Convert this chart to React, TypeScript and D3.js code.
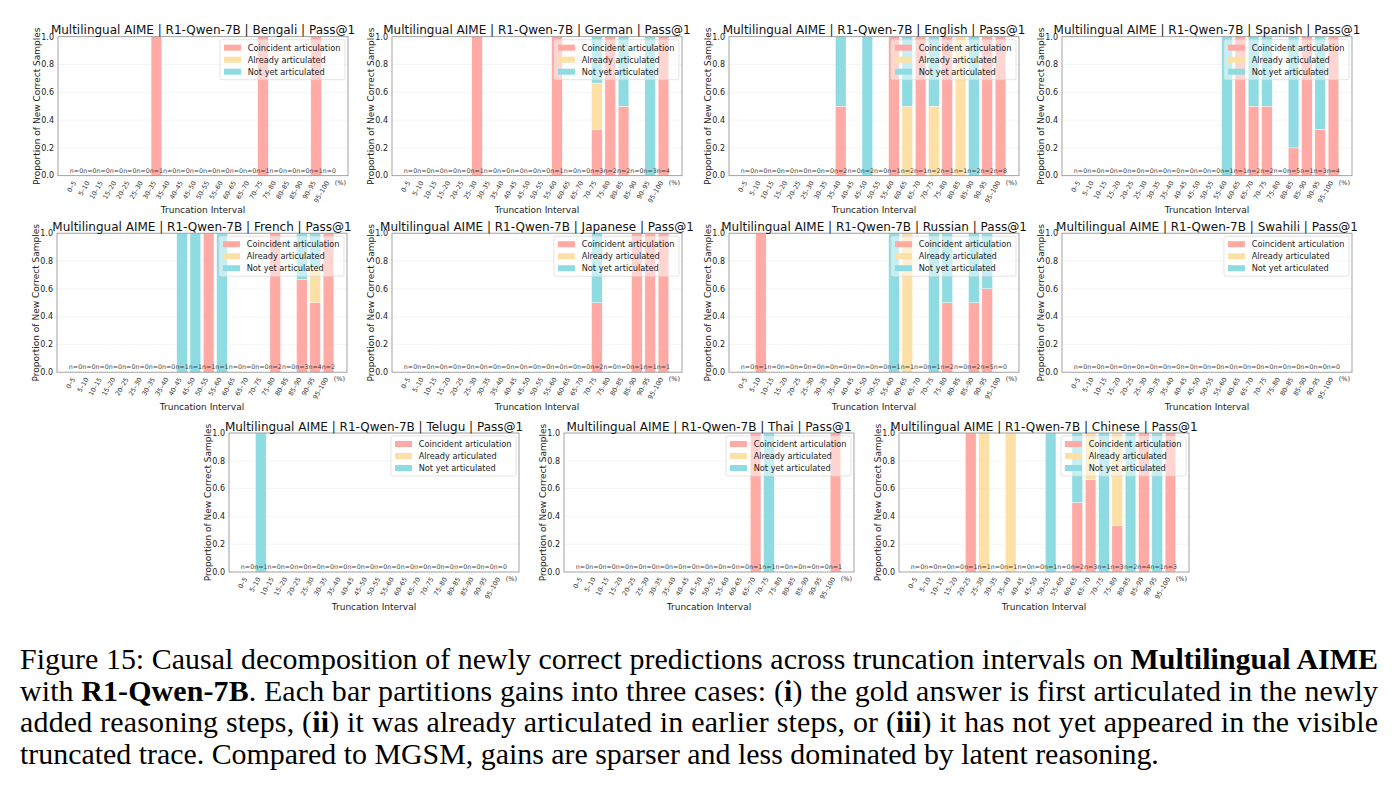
import React from "react";
import * as d3 from "d3";

// ---------- data ----------
const INTERVALS = [
  "0–5", "5–10", "10–15", "15–20", "20–25", "25–30", "30–35", "35–40", "40–45", "45–50",
  "50–55", "55–60", "60–65", "65–70", "70–75", "75–80", "80–85", "85–90", "90–95", "95–100",
];
const Y_TICKS = [0, 0.2, 0.4, 0.6, 0.8, 1.0];
const CASES = ["Coincident articulation", "Already articulated", "Not yet articulated"];
const KEYS = ["coincident", "already", "notYet"];
const COLORS = ["#ffaaa5", "#fde0a6", "#8edce2"];

// counts per interval: coincident / already / not yet
const BENGALI = {
  coincident: [0,0,0,0,0,0,1,0,0,0,0,0,0,0,1,0,0,0,1,0],
  already:    [0,0,0,0,0,0,0,0,0,0,0,0,0,0,0,0,0,0,0,0],
  notYet:     [0,0,0,0,0,0,0,0,0,0,0,0,0,0,0,0,0,0,0,0],
};
const GERMAN = {
  coincident: [0,0,0,0,0,1,0,0,0,0,0,1,0,0,1,2,1,0,0,4],
  already:    [0,0,0,0,0,0,0,0,0,0,0,0,0,0,1,0,0,0,0,0],
  notYet:     [0,0,0,0,0,0,0,0,0,0,0,0,0,0,1,0,1,0,3,0],
};
const ENGLISH = {
  coincident: [0,0,0,0,0,0,0,1,0,0,0,1,0,1,0,1,0,0,2,8],
  already:    [0,0,0,0,0,0,0,0,0,0,0,0,1,0,1,0,1,0,0,0],
  notYet:     [0,0,0,0,0,0,0,1,0,2,0,0,1,0,1,0,0,2,0,0],
};
const SPANISH = {
  coincident: [0,0,0,0,0,0,0,0,0,0,0,0,1,1,1,0,1,1,1,4],
  already:    [0,0,0,0,0,0,0,0,0,0,0,0,0,0,0,0,0,0,0,0],
  notYet:     [0,0,0,0,0,0,0,0,0,0,0,1,0,1,1,0,4,0,2,0],
};
const FRENCH = {
  coincident: [0,0,0,0,0,0,0,0,0,0,1,0,0,0,0,2,0,2,2,2],
  already:    [0,0,0,0,0,0,0,0,0,0,0,0,0,0,0,0,0,0,1,0],
  notYet:     [0,0,0,0,0,0,0,0,1,1,0,1,0,0,0,0,0,1,1,0],
};
const JAPANESE = {
  coincident: [0,0,0,0,0,0,0,0,0,0,0,0,0,0,1,0,0,1,1,1],
  already:    [0,0,0,0,0,0,0,0,0,0,0,0,0,0,0,0,0,0,0,0],
  notYet:     [0,0,0,0,0,0,0,0,0,0,0,0,0,0,1,0,0,0,0,0],
};
const RUSSIAN = {
  coincident: [0,1,0,0,0,0,0,0,0,0,0,0,0,0,0,1,0,1,3,0],
  already:    [0,0,0,0,0,0,0,0,0,0,0,0,1,0,0,0,0,0,0,0],
  notYet:     [0,0,0,0,0,0,0,0,0,0,0,1,0,0,1,1,0,1,2,0],
};
const SWAHILI = {
  coincident: [0,0,0,0,0,0,0,0,0,0,0,0,0,0,0,0,0,0,0,0],
  already:    [0,0,0,0,0,0,0,0,0,0,0,0,0,0,0,0,0,0,0,0],
  notYet:     [0,0,0,0,0,0,0,0,0,0,0,0,0,0,0,0,0,0,0,0],
};
const TELUGU = {
  coincident: [0,0,0,0,0,0,0,0,0,0,0,0,0,0,0,0,0,0,0,0],
  already:    [0,0,0,0,0,0,0,0,0,0,0,0,0,0,0,0,0,0,0,0],
  notYet:     [0,1,0,0,0,0,0,0,0,0,0,0,0,0,0,0,0,0,0,0],
};
const THAI = {
  coincident: [0,0,0,0,0,0,0,0,0,0,0,0,0,1,0,0,0,0,0,1],
  already:    [0,0,0,0,0,0,0,0,0,0,0,0,0,0,0,0,0,0,0,0],
  notYet:     [0,0,0,0,0,0,0,0,0,0,0,0,0,0,1,0,0,0,0,0],
};
const CHINESE = {
  coincident: [0,0,0,0,1,0,0,0,0,0,0,0,1,2,0,1,0,4,0,3],
  already:    [0,0,0,0,0,1,0,1,0,0,0,0,0,1,0,2,0,0,0,0],
  notYet:     [0,0,0,0,0,0,0,0,0,0,1,0,1,0,1,0,2,0,1,0],
};

const LANGUAGES = ["Bengali", "German", "English", "Spanish", "French", "Japanese", "Russian", "Swahili", "Telugu", "Thai", "Chinese"];
const LANG_DATA = [BENGALI, GERMAN, ENGLISH, SPANISH, FRENCH, JAPANESE, RUSSIAN, SWAHILI, TELUGU, THAI, CHINESE];

// ---------- layout ----------
const PANEL_W = 290;
const PANEL_H = 139;
const ORIGINS: [number, number][] = [
  [58, 36.7], [392, 36.7], [729, 36.7], [1062, 36.7],
  [57, 233.2], [392, 233.2], [729, 233.2], [1062, 233.2],
  [229, 433], [564, 433], [899, 433],
];

const SANS = "'DejaVu Sans', sans-serif";
const SERIF = "'Liberation Serif', 'Times New Roman', serif";

function Panel({ lang, data, x0, y0 }: any) {
  const xs = d3.scaleLinear().domain([-1.39, 20.39]).range([0, PANEL_W]);
  const ys = d3.scaleLinear().domain([0, 1]).range([PANEL_H, 0]);
  const totals = data.coincident.map((c: number, i: number) => c + data.already[i] + data.notYet[i]);
  const rows = totals.map((t: number, i: number) => ({
    i,
    coincident: t ? data.coincident[i] / t : 0,
    already: t ? data.already[i] / t : 0,
    notYet: t ? data.notYet[i] / t : 0,
  }));
  const series = d3.stack<any>().keys(KEYS)(rows);
  const bw = xs(0.4) - xs(-0.4);
  const legX = PANEL_W - 128;
  return (
    <g transform={`translate(${x0},${y0})`}>
      {Y_TICKS.slice(1, 5).map((t) => (
        <line key={t} x1={0} x2={PANEL_W} y1={ys(t)} y2={ys(t)} stroke="#ececec" strokeWidth={0.6} />
      ))}
      {series.map((s, k) =>
        s.map((d: any, i: number) =>
          d[1] - d[0] > 0 ? (
            <rect key={`${k}-${i}`} x={xs(i - 0.4)} width={bw} y={ys(d[1])} height={ys(d[0]) - ys(d[1])}
              fill={COLORS[k]} stroke="#fff" strokeWidth={0.4} />
          ) : null
        )
      )}
      {totals.map((t: number, i: number) => (
        <text key={i} x={xs(i)} y={PANEL_H - 3} textAnchor="middle" fontSize={6.3} fontFamily={SANS} fill="#444">
          {`n=${t}`}
        </text>
      ))}
      {/* legend */}
      <rect x={legX} y={3} width={125} height={40} rx={2} fill="#fff" fillOpacity={0.5} stroke="#d8d8d8" strokeWidth={0.7} />
      {CASES.map((c, k) => (
        <g key={c}>
          <rect x={legX + 4} y={11 + k * 12 - 3} width={17} height={6} fill={COLORS[k]} />
          <text x={legX + 27.7} y={11 + k * 12} dy="0.35em" fontSize={8.2} fontFamily={SANS} fill="#222">{c}</text>
        </g>
      ))}
      <rect x={0} y={0} width={PANEL_W} height={PANEL_H} fill="none" stroke="#8a8a8a" strokeWidth={0.8} />
      {Y_TICKS.map((t) => (
        <text key={t} x={-4} y={ys(t)} dy="0.35em" textAnchor="end" fontSize={8} fontFamily={SANS} fill="#222">
          {d3.format(".1f")(t)}
        </text>
      ))}
      {INTERVALS.map((lab, i) => (
        <text key={lab} transform={`translate(${xs(i)},${PANEL_H + 7}) rotate(-60)`} textAnchor="end"
          fontSize={6.5} fontFamily={SANS} fill="#333">{lab}</text>
      ))}
      <text x={PANEL_W - 2} y={PANEL_H + 9} textAnchor="end" fontSize={6.5} fontFamily={SANS} fill="#333">(%)</text>
      <text x={PANEL_W / 2} y={PANEL_H + 37.5} textAnchor="middle" fontSize={9} fontFamily={SANS} fill="#222">Truncation Interval</text>
      <text transform={`translate(-18,${PANEL_H / 2}) rotate(-90)`} textAnchor="middle" fontSize={9} fontFamily={SANS} fill="#222">
        Proportion of New Correct Samples
      </text>
      <text x={PANEL_W / 2} y={-2.5} textAnchor="middle" fontSize={12} fontFamily={SANS} fill="#111">
        {`Multilingual AIME | R1-Qwen-7B | ${lang} | Pass@1`}
      </text>
    </g>
  );
}

export default function App() {
  return (
    <svg width={1394} height={798} style={{ position: "absolute", left: 0, top: 0, background: "#fff" }}>
      {LANGUAGES.map((lang, k) => (
        <Panel key={lang} lang={lang} data={LANG_DATA[k]} x0={ORIGINS[k][0]} y0={ORIGINS[k][1]} />
      ))}
      <g fontFamily={SERIF} fontSize={29.9} fill="#000">
        <text x={20} y={669} textLength={1358} lengthAdjust="spacing">
          Figure 15: Causal decomposition of newly correct predictions across truncation intervals on{" "}
          <tspan fontWeight="bold">Multilingual AIME</tspan>
        </text>
        <text x={20} y={700.5} textLength={1358} lengthAdjust="spacing">
          with <tspan fontWeight="bold">R1-Qwen-7B</tspan>. Each bar partitions gains into three cases: (
          <tspan fontWeight="bold">i</tspan>) the gold answer is first articulated in the newly
        </text>
        <text x={20} y={732} textLength={1358} lengthAdjust="spacing">
          added reasoning steps, (<tspan fontWeight="bold">ii</tspan>) it was already articulated in earlier steps, or (
          <tspan fontWeight="bold">iii</tspan>) it has not yet appeared in the visible
        </text>
        <text x={20} y={763.5}>
          truncated trace. Compared to MGSM, gains are sparser and less dominated by latent reasoning.
        </text>
      </g>
    </svg>
  );
}
